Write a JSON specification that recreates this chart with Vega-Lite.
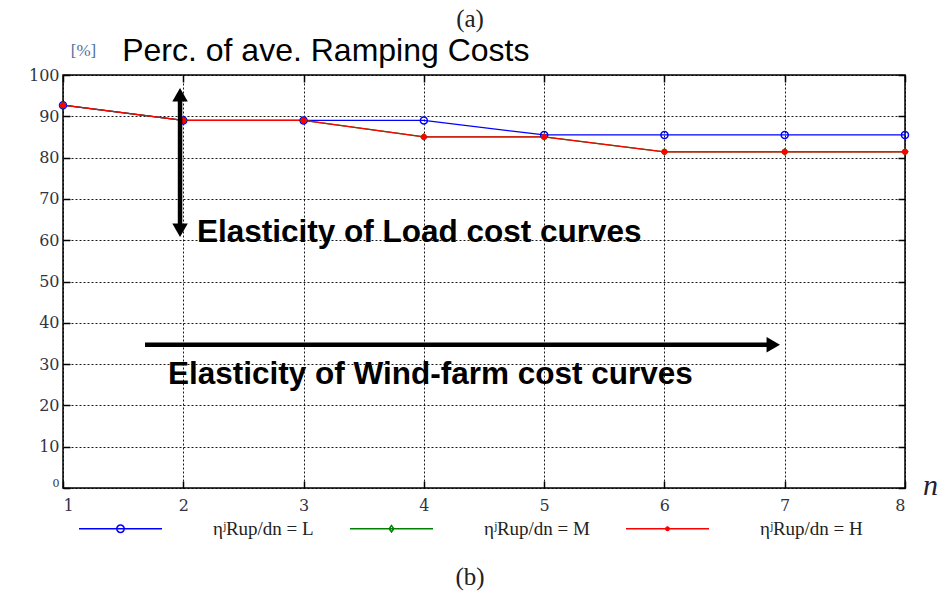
{
  "$schema": "https://vega.github.io/schema/vega-lite/v6.json",
  "width": 842,
  "height": 413,
  "autosize": {"type": "none"},
  "padding": {"left": 63, "top": 75, "right": 44, "bottom": 105},
  "background": "white",
  "config": {
    "view": {"stroke": "black", "strokeWidth": 1.5},
    "axis": {"labelFont": "DejaVu Serif", "labelFontSize": 16, "labelColor": "#333344"}
  },
  "title": {
    "text": "(a)",
    "anchor": "middle",
    "frame": "group",
    "dx": -14,
    "offset": -18,
    "baseline": "alphabetic",
    "font": "Liberation Serif",
    "fontSize": 25,
    "fontWeight": "normal",
    "color": "#222222"
  },
  "datasets": {
    "series": [
      {"n": 1, "value": 92.7, "series": "L"},
      {"n": 2, "value": 89.0, "series": "L"},
      {"n": 3, "value": 89.0, "series": "L"},
      {"n": 4, "value": 89.0, "series": "L"},
      {"n": 5, "value": 85.5, "series": "L"},
      {"n": 6, "value": 85.5, "series": "L"},
      {"n": 7, "value": 85.5, "series": "L"},
      {"n": 8, "value": 85.5, "series": "L"},
      {"n": 1, "value": 92.7, "series": "M"},
      {"n": 2, "value": 89.0, "series": "M"},
      {"n": 3, "value": 89.0, "series": "M"},
      {"n": 4, "value": 85.0, "series": "M"},
      {"n": 5, "value": 85.0, "series": "M"},
      {"n": 6, "value": 81.4, "series": "M"},
      {"n": 7, "value": 81.4, "series": "M"},
      {"n": 8, "value": 81.4, "series": "M"},
      {"n": 1, "value": 92.7, "series": "H"},
      {"n": 2, "value": 89.0, "series": "H"},
      {"n": 3, "value": 89.0, "series": "H"},
      {"n": 4, "value": 85.0, "series": "H"},
      {"n": 5, "value": 85.0, "series": "H"},
      {"n": 6, "value": 81.4, "series": "H"},
      {"n": 7, "value": 81.4, "series": "H"},
      {"n": 8, "value": 81.4, "series": "H"}
    ],
    "arrows": [
      {"n": 1.973, "n2": 1.973, "value": 62.4, "value2": 95.2},
      {"n": 1.682, "n2": 6.905, "value": 34.7, "value2": 34.7}
    ],
    "heads": [
      {"n": 1.973, "value": 95.2, "dir": "up"},
      {"n": 1.973, "value": 62.4, "dir": "down"},
      {"n": 6.905, "value": 34.7, "dir": "right"}
    ],
    "notes": [
      {"n": 2.114, "value": 59.6, "label": "Elasticity of Load cost curves"},
      {"n": 1.873, "value": 25.2, "label": "Elasticity of Wind-farm cost curves"}
    ]
  },
  "layer": [
    {
      "data": {"name": "series"},
      "mark": {"type": "line", "strokeWidth": 1.3},
      "encoding": {
        "x": {
          "field": "n", "type": "quantitative",
          "scale": {"domain": [1, 8], "nice": false, "zero": false},
          "axis": {
            "orient": "bottom", "values": [1, 2, 3, 4, 5, 6, 7, 8], "format": "d",
            "grid": true, "gridColor": "black", "gridDash": [2, 2], "gridWidth": 1, "gridOpacity": 0.9,
            "domain": false, "ticks": true, "tickSize": -7, "tickColor": "black", "tickWidth": 1.5,
            "labelPadding": 16,
            "title": "n", "titleFont": "Liberation Serif", "titleFontStyle": "italic", "titleFontWeight": "normal",
            "titleFontSize": 30, "titleX": 867, "titleY": 6, "titleBaseline": "alphabetic", "titleAlign": "center",
            "titleColor": "#222233"
          }
        },
        "y": {
          "field": "value", "type": "quantitative",
          "scale": {"domain": [0, 100], "nice": false, "zero": true},
          "axis": {
            "orient": "left", "values": [0, 10, 20, 30, 40, 50, 60, 70, 80, 90, 100],
            "grid": true, "gridColor": "black", "gridDash": [2, 2], "gridWidth": 1, "gridOpacity": 0.9,
            "domain": false, "ticks": true, "tickSize": -7, "tickColor": "black", "tickWidth": 1.5,
            "labelPadding": 11,
            "labelFontSize": {"condition": {"test": "datum.value === 0", "value": 11}, "value": 16},
            "labelBaseline": {"condition": {"test": "datum.value === 0", "value": "bottom"}, "value": "middle"},
            "title": "[%]", "titleAngle": 0, "titleX": 20, "titleY": -20, "titleAlign": "center",
            "titleBaseline": "alphabetic", "titleFont": "Liberation Serif", "titleFontSize": 17,
            "titleFontWeight": "normal", "titleColor": "#5070a0"
          }
        },
        "color": {
          "field": "series", "type": "nominal",
          "scale": {"domain": ["L", "M", "H"], "range": ["#0000ff", "#008000", "#ff0000"]},
          "legend": {
            "orient": "none", "legendX": 15, "legendY": 411, "direction": "horizontal", "columns": 3,
            "padding": 0,
            "title": "(b)", "titleOrient": "bottom", "titleAnchor": "middle", "titleFont": "Liberation Serif",
            "titleFontSize": 25, "titleFontWeight": "normal", "titleColor": "#222222", "titlePadding": 26,
            "symbolSize": 6889, "symbolStrokeWidth": 1.5, "labelOffset": 50, "columnPadding": 33,
            "labelFont": "Liberation Serif", "labelFontSize": 19, "labelColor": "#222222", "labelLimit": 300,
            "labelExpr": "'ηʲRup/dn = ' + datum.label",
            "encode": {
              "symbols": {
                "update": {
                  "shape": {"signal": "datum.value === 'L' ? 'M-1,0H1M-0.09,0A0.09,0.09 0 1,1 0.09,0A0.09,0.09 0 1,1 -0.09,0' : datum.value === 'M' ? 'M-1,0H1M0,-0.075L0.055,0L0,0.075L-0.055,0Z' : 'M-1,0H1M-0.04,0A0.04,0.04 0 1,1 0.04,0A0.04,0.04 0 1,1 -0.04,0'"},
                  "fill": {"signal": "datum.value === 'H' ? '#ff0000' : 'transparent'"}
                }
              }
            }
          }
        }
      }
    },
    {
      "data": {"name": "series"},
      "transform": [{"filter": "datum.series === 'L'"}],
      "mark": {"type": "point", "shape": "circle", "filled": false, "size": 49, "strokeWidth": 1.5, "color": "#0000ff", "opacity": 1},
      "encoding": {
        "x": {"field": "n", "type": "quantitative", "axis": null},
        "y": {"field": "value", "type": "quantitative", "axis": null}
      }
    },
    {
      "data": {"name": "series"},
      "transform": [{"filter": "datum.series === 'M'"}],
      "mark": {"type": "point", "shape": "diamond", "filled": false, "size": 36, "strokeWidth": 1.2, "color": "#008000", "opacity": 1},
      "encoding": {
        "x": {"field": "n", "type": "quantitative", "axis": null},
        "y": {"field": "value", "type": "quantitative", "axis": null}
      }
    },
    {
      "data": {"name": "series"},
      "transform": [{"filter": "datum.series === 'H'"}],
      "mark": {"type": "point", "shape": "circle", "filled": true, "size": 36, "color": "#ff0000", "opacity": 1},
      "encoding": {
        "x": {"field": "n", "type": "quantitative", "axis": null},
        "y": {"field": "value", "type": "quantitative", "axis": null}
      }
    },
    {
      "data": {"name": "arrows"},
      "mark": {"type": "rule", "color": "black", "strokeWidth": 4.5},
      "encoding": {
        "x": {"field": "n", "type": "quantitative", "axis": null},
        "x2": {"field": "n2"},
        "y": {
          "field": "value", "type": "quantitative",
          "axis": {
            "orient": "right", "values": [0, 10, 20, 30, 40, 50, 60, 70, 80, 90, 100],
            "labels": false, "grid": false, "domain": false, "ticks": true, "tickSize": -7,
            "tickColor": "black", "tickWidth": 1.5, "title": null
          }
        },
        "y2": {"field": "value2"}
      }
    },
    {
      "data": {"name": "heads"},
      "mark": {"type": "point", "filled": true, "size": 240, "color": "black", "opacity": 1, "strokeWidth": 0},
      "encoding": {
        "x": {"field": "n", "type": "quantitative", "axis": null},
        "y": {"field": "value", "type": "quantitative", "axis": null},
        "shape": {
          "field": "dir", "type": "nominal", "legend": null,
          "scale": {"domain": ["up", "down", "right"], "range": ["triangle-up", "triangle-down", "triangle-right"]}
        }
      }
    },
    {
      "data": {"name": "notes"},
      "mark": {"type": "text", "align": "left", "baseline": "alphabetic", "font": "Liberation Sans", "fontWeight": "bold", "fontSize": 31.5, "color": "black"},
      "encoding": {
        "x": {
          "field": "n", "type": "quantitative",
          "axis": {
            "orient": "top", "values": [1, 2, 3, 4, 5, 6, 7, 8], "labels": false, "grid": false,
            "domain": false, "ticks": true, "tickSize": -7, "tickColor": "black", "tickWidth": 1.5,
            "title": "Perc. of ave. Ramping Costs", "titleFont": "Liberation Sans", "titleFontSize": 32,
            "titleFontWeight": "normal", "titleColor": "black", "titleX": 58.7, "titleY": -15,
            "titleAlign": "left", "titleBaseline": "alphabetic"
          }
        },
        "y": {"field": "value", "type": "quantitative", "axis": null},
        "text": {"field": "label"}
      }
    }
  ],
  "resolve": {"axis": {"x": "independent", "y": "independent"}}
}
